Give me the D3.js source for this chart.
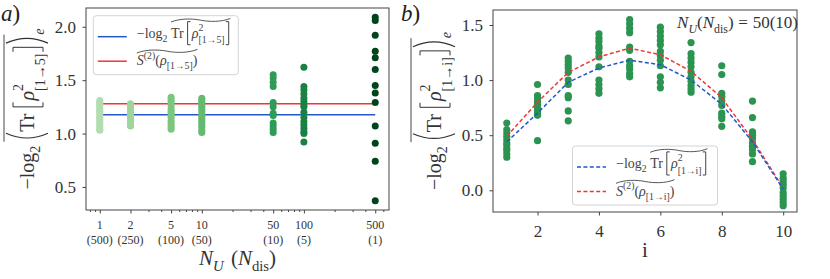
<!DOCTYPE html>
<html>
<head>
<meta charset="utf-8">
<script src="https://cdn.jsdelivr.net/npm/d3@7"></script>
<style>
  body { margin: 0; background: #fff; }
  svg { display: block; }
</style>
</head>
<body>
<div id="chart"></div>
<script>
// ---- data ----
var nU = [1, 2, 5, 10, 50, 100, 500];
var nDis = [500, 250, 100, 50, 10, 5, 1];
var minorTicks = [0.8, 0.9, 3, 4, 6, 7, 8, 9, 20, 30, 40, 60, 70, 80, 90, 200, 300, 400, 600];
var colColors = ["#b3ddb0", "#9fd59b", "#7cc67f", "#64ba70", "#2e9b56", "#1b8043", "#00441b"];
var colVals = [
  [1.31, 1.29, 1.28, 1.26, 1.24, 1.22, 1.21, 1.19, 1.17, 1.15, 1.14, 1.12, 1.10, 1.08, 1.06, 1.04, 1.03],
  [1.28, 1.26, 1.24, 1.22, 1.20, 1.18, 1.16, 1.14, 1.12, 1.10, 1.08, 1.07],
  [1.34, 1.32, 1.30, 1.28, 1.26, 1.23, 1.21, 1.19, 1.17, 1.15, 1.12, 1.10, 1.08, 1.06, 1.04],
  [1.33, 1.31, 1.29, 1.27, 1.25, 1.23, 1.21, 1.18, 1.16, 1.14, 1.12, 1.10, 1.08, 1.06, 1.03, 1.01],
  [1.55, 1.52, 1.48, 1.44, 1.29, 1.25, 1.19, 1.17, 1.10, 1.07, 1.04, 1.01],
  [1.62, 1.44, 1.41, 1.37, 1.33, 1.30, 1.27, 1.25, 1.20, 1.15, 1.11, 1.08, 1.05, 1.02, 1.00, 0.92],
  [2.09, 2.06, 1.92, 1.77, 1.71, 1.60, 1.45, 1.38, 1.29, 1.07, 0.91, 0.74, 0.37]
];
var meanLogA = 1.175;
var meanSA = 1.28;

var iVals = [1, 2, 3, 4, 5, 6, 7, 8, 9, 10];
var ptsB = [
  [0.61, 0.55, 0.52, 0.49, 0.46, 0.43, 0.41, 0.38, 0.36, 0.33, 0.30],
  [0.96, 0.86, 0.83, 0.80, 0.78, 0.75, 0.72, 0.70, 0.68, 0.45],
  [1.20, 1.17, 1.14, 1.11, 1.07, 1.00, 0.96, 0.86, 0.84, 0.72, 0.63],
  [1.42, 1.38, 1.35, 1.31, 1.29, 1.25, 1.21, 1.12, 1.00, 0.96, 0.92, 0.88],
  [1.55, 1.51, 1.47, 1.43, 1.30, 1.27, 1.17, 1.13, 1.10, 1.06, 1.03],
  [1.48, 1.44, 1.40, 1.36, 1.32, 1.26, 1.22, 1.18, 1.13, 1.03, 0.98, 0.93],
  [1.34, 1.24, 1.20, 1.16, 1.12, 1.07, 1.03, 0.99, 0.95, 0.92, 0.89],
  [1.13, 1.05, 0.88, 0.85, 0.81, 0.77, 0.70, 0.67, 0.65, 0.58],
  [0.81, 0.66, 0.53, 0.50, 0.47, 0.43, 0.40, 0.37, 0.33, 0.26],
  [0.15, 0.11, 0.08, 0.05, 0.02, -0.02, -0.05, -0.08, -0.11, -0.14]
];
var purLogB = [0.44, 0.70, 0.98, 1.11, 1.18, 1.14, 1.00, 0.78, 0.44, 0.01];
var purSB = [0.49, 0.80, 1.07, 1.21, 1.29, 1.23, 1.08, 0.84, 0.46, 0.02];
var yTicksA = [0.5, 1.0, 1.5, 2.0];
var yTicksB = [0.0, 0.5, 1.0, 1.5];
var xTicksB = [2, 4, 6, 8, 10];

var serif = "'Liberation Serif', 'DejaVu Serif', serif";
var txt = "#333";
var blue = "#2457c5", red = "#f03535", greenB = "#2a9450";

var svg = d3.select("#chart").append("svg")
  .attr("width", 830).attr("height", 279)
  .attr("font-family", serif);

// small math typesetter: items laid out left to right, measured in the page
function math(parent, items, size, color) {
  var g = parent.append("g").attr("fill", color || txt);
  var x = 0, marks = {};
  function put(it, x0) {
    var t = g.append("text")
      .attr("x", x0).attr("y", (it.dy || 0) * size)
      .attr("font-size", (it.s || 1) * size)
      .attr("font-style", it.i ? "italic" : null)
      .text(it.t);
    return t.node().getComputedTextLength();
  }
  items.forEach(function(it) {
    if (typeof it === "string") { marks[it] = x; return; }
    if (it.sp) { x += it.sp * size; return; }
    if (it.stack) { x += d3.max(it.stack.map(function(s) { return put(s, x); })); return; }
    if (it.br) {
      var w = it.w * size, top = -it.top * size, bot = it.bot * size, mid = (top + bot) / 2, d;
      if (it.br === "(") d = "M" + (x + w * 0.85) + "," + top + "Q" + (x - w * 0.1) + "," + mid + " " + (x + w * 0.85) + "," + bot;
      if (it.br === ")") d = "M" + (x + w * 0.15) + "," + top + "Q" + (x + w * 1.1) + "," + mid + " " + (x + w * 0.15) + "," + bot;
      if (it.br === "[") d = "M" + (x + w * 0.8) + "," + top + "H" + (x + w * 0.3) + "V" + bot + "H" + (x + w * 0.8);
      if (it.br === "]") d = "M" + (x + w * 0.2) + "," + top + "H" + (x + w * 0.7) + "V" + bot + "H" + (x + w * 0.2);
      g.append("path").attr("d", d).attr("fill", "none")
        .attr("stroke", color || txt).attr("stroke-width", it.sw || 1);
      x += w;
      return;
    }
    x += put(it, x);
  });
  return {g: g, w: x, marks: marks};
}

function tilde(g, x0, x1, y, a, color) {
  var w = x1 - x0;
  g.append("path")
    .attr("d", "M" + x0 + "," + (y + a) + "C" + (x0 + 0.15 * w) + "," + (y - a) + " " + (x0 + 0.35 * w) + "," + (y - a) + " " + (x0 + 0.5 * w) + "," + y +
      "C" + (x0 + 0.65 * w) + "," + (y + a) + " " + (x0 + 0.85 * w) + "," + (y + a) + " " + x1 + "," + (y - a))
    .attr("fill", "none").attr("stroke", color).attr("stroke-width", 0.9);
}

function yLabel(cx, cy, idx) {
  var outer = svg.append("g").attr("transform", "translate(" + cx + "," + cy + ") rotate(-90)");
  var m = math(outer, [
    {t: "\u2212log"}, {t: "2", s: 0.7, dy: 0.3}, {sp: 0.2},
    "o0", {br: "(", w: 0.5, top: 1.4, bot: 0.7, sw: 1.2},
    {t: "Tr"}, {sp: 0.2},
    {br: "[", w: 0.45, top: 1.05, bot: 0.45},
    {t: "\u03c1", i: true},
    {stack: [{t: "2", s: 0.7, dy: -0.55}, {t: "[1\u2192" + idx + "]", s: 0.7, dy: 0.55}]},
    {br: "]", w: 0.45, top: 1.05, bot: 0.45},
    {br: ")", w: 0.5, top: 1.4, bot: 0.7, sw: 1.2}, "o1",
    {t: "e", s: 0.7, i: true, dy: 0.5}
  ], 20);
  m.g.attr("transform", "translate(" + (-m.w / 2) + ",0)");
  m.g.append("line").attr("x1", m.marks.o0).attr("x2", m.marks.o1)
    .attr("y1", -30).attr("y2", -30).attr("stroke", txt).attr("stroke-width", 0.9);
}

function legend(x, y, idx, dashed) {
  var g = svg.append("g");
  g.append("rect").attr("x", x).attr("y", y).attr("width", 145).attr("height", 59)
    .attr("rx", 3).attr("fill", "#fff").attr("stroke", "#d4d4d4");
  var rows = [{c: blue, ly: 21}, {c: red, ly: 45.5}];
  rows.forEach(function(r) {
    g.append("line").attr("x1", x + 4.5).attr("x2", x + 33.5)
      .attr("y1", y + r.ly).attr("y2", y + r.ly)
      .attr("stroke", r.c).attr("stroke-width", 1.5)
      .attr("stroke-dasharray", dashed ? "4,2.4" : null);
  });
  var e1 = g.append("g").attr("transform", "translate(" + (x + 43.5) + "," + (y + 22) + ")");
  var m1 = math(e1, [
    {t: "\u2212log"}, {t: "2", s: 0.7, dy: 0.3}, {sp: 0.25}, "t0", {t: "Tr"}, {sp: 0.15},
    {br: "[", w: 0.42, top: 1.15, bot: 0.5},
    {t: "\u03c1", i: true},
    {stack: [{t: "2", s: 0.7, dy: -0.5}, {t: "[1\u2192" + idx + "]", s: 0.7, dy: 0.4}]},
    {br: "]", w: 0.42, top: 1.15, bot: 0.5}, "t1"
  ], 14, "#444");
  tilde(m1.g, m1.marks.t0, m1.marks.t1, -17.5, 1.8, "#444");
  var e2 = g.append("g").attr("transform", "translate(" + (x + 43.5) + "," + (y + 49.5) + ")");
  var m2 = math(e2, [
    "t0", {t: "S", i: true}, {t: "(2)", s: 0.7, dy: -0.45}, {t: "("}, {t: "\u03c1", i: true},
    {t: "[1\u2192" + idx + "]", s: 0.7, dy: 0.3}, {t: ")"}, "t1"
  ], 14, "#444");
  tilde(m2.g, m2.marks.t0, m2.marks.t1, -14, 1.8, "#444");
}

function frame(x0, y0, x1, y1) {
  svg.append("rect").attr("x", x0).attr("y", y0).attr("width", x1 - x0).attr("height", y1 - y0)
    .attr("fill", "none").attr("stroke", "#444").attr("stroke-width", 1);
}

function styleAxis(g, fs) {
  g.select(".domain").remove();
  g.selectAll(".tick line").attr("stroke", "#444");
  g.selectAll(".tick text").attr("fill", txt).attr("font-size", fs).attr("font-family", serif);
}

// ---------------- panel a ----------------
var xA = d3.scaleLog().domain([0.733, 682]).range([86, 389]);
var yA = d3.scaleLinear().domain([0.284, 2.176]).range([210, 8]);

styleAxis(svg.append("g").attr("transform", "translate(86,0)")
  .call(d3.axisLeft(yA).tickValues(yTicksA).tickFormat(d3.format(".1f")).tickSize(3.5).tickPadding(6.5)), 17);
styleAxis(svg.append("g").attr("transform", "translate(0,210)")
  .call(d3.axisBottom(xA).tickValues(nU).tickFormat("").tickSize(3.5)), 12);
styleAxis(svg.append("g").attr("transform", "translate(0,210)")
  .call(d3.axisBottom(xA).tickValues(minorTicks).tickFormat("").tickSize(2)), 12);

nU.forEach(function(v, k) {
  var t = svg.append("text").attr("x", xA(v)).attr("text-anchor", "middle")
    .attr("font-size", 12).attr("fill", txt);
  t.append("tspan").attr("x", xA(v)).attr("y", 229).text(v);
  t.append("tspan").attr("x", xA(v)).attr("y", 243.5).text("(" + nDis[k] + ")");
});

svg.append("line").attr("x1", xA(1)).attr("x2", xA(500)).attr("y1", yA(meanSA)).attr("y2", yA(meanSA))
  .attr("stroke", red).attr("stroke-width", 1.5);
svg.append("line").attr("x1", xA(1)).attr("x2", xA(500)).attr("y1", yA(meanLogA)).attr("y2", yA(meanLogA))
  .attr("stroke", blue).attr("stroke-width", 1.5);

nU.forEach(function(v, k) {
  svg.append("g").selectAll("circle").data(colVals[k]).join("circle")
    .attr("cx", xA(v)).attr("cy", function(d) { return yA(d); })
    .attr("r", 3.5).attr("fill", colColors[k]);
});
frame(86, 8, 389, 210);
legend(93.3, 15.7, "5", false);

var xlA = math(svg.append("g").attr("transform", "translate(237.5,265)"), [
  {t: "N", i: true}, {t: "U", s: 0.7, i: true, dy: 0.3}, {sp: 0.35},
  {t: "("}, {t: "N", i: true}, {t: "dis", s: 0.7, dy: 0.3}, {t: ")"}
], 21);
xlA.g.attr("transform", "translate(" + (-xlA.w / 2) + ",0)");
yLabel(34, 109, "5");

math(svg.append("g").attr("transform", "translate(1,21)"), [{t: "a", i: true}, {t: ")"}], 23, "#222");

// ---------------- panel b ----------------
var xB = d3.scaleLinear().domain([0.55, 10.45]).range([493, 797]);
var yB = d3.scaleLinear().domain([-0.197, 1.636]).range([212, 10]);

styleAxis(svg.append("g").attr("transform", "translate(493,0)")
  .call(d3.axisLeft(yB).tickValues(yTicksB).tickFormat(d3.format(".1f")).tickSize(3.5).tickPadding(6.5)), 17);
styleAxis(svg.append("g").attr("transform", "translate(0,212)")
  .call(d3.axisBottom(xB).tickValues(xTicksB).tickSize(3.5).tickPadding(9.5)), 17);

iVals.forEach(function(v, k) {
  svg.append("g").selectAll("circle").data(ptsB[k]).join("circle")
    .attr("cx", xB(v)).attr("cy", function(d) { return yB(d); })
    .attr("r", 3.6).attr("fill", greenB);
});

var lineB = d3.line().x(function(d, k) { return xB(iVals[k]); }).y(function(d) { return yB(d); });
svg.append("path").datum(purSB).attr("d", lineB).attr("fill", "none")
  .attr("stroke", red).attr("stroke-width", 1.5).attr("stroke-dasharray", "4,2.4");
svg.append("path").datum(purLogB).attr("d", lineB).attr("fill", "none")
  .attr("stroke", blue).attr("stroke-width", 1.5).attr("stroke-dasharray", "4,2.4");

frame(493, 10, 797, 212);
legend(572.5, 146, "i", true);

var note = math(svg.append("g").attr("transform", "translate(0,28)"), [
  {t: "N", i: true}, {t: "U", s: 0.7, i: true, dy: 0.3}, {t: "("}, {t: "N", i: true},
  {t: "dis", s: 0.7, dy: 0.3}, {t: ")"}, {sp: 0.28}, {t: "="}, {sp: 0.28}, {t: "50(10)"}
], 17);
note.g.attr("transform", "translate(" + (798 - note.w) + ",0)");

svg.append("text").attr("x", 645).attr("y", 257).attr("text-anchor", "middle")
  .attr("font-size", 21).attr("fill", txt).text("i");
yLabel(441, 111, "i");

math(svg.append("g").attr("transform", "translate(401,21)"), [{t: "b", i: true}, {t: ")"}], 23, "#222");
</script>
</body>
</html>
